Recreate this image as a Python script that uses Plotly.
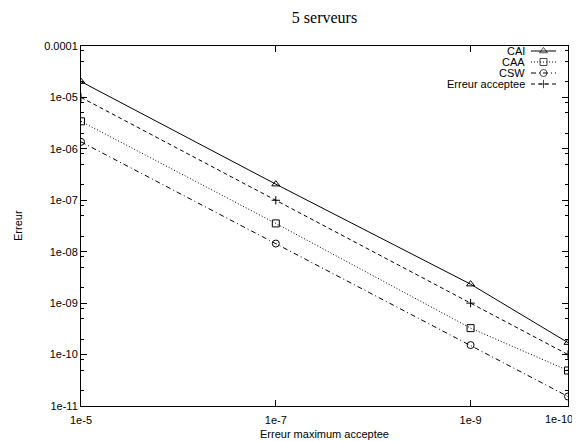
import plotly.graph_objects as go

x_vals = [1e-5, 1e-7, 1e-9, 1e-10]
cai = [2.03e-5, 2.06e-7, 2.34e-9, 1.71e-10]
caa = [3.43e-6, 3.55e-8, 3.27e-10, 4.9e-11]
csw = [1.37e-6, 1.44e-8, 1.53e-10, 1.53e-11]
erreur_acceptee = [1e-5, 1e-7, 1e-9, 1e-10]

series_names = ["CAI", "CAA", "CSW", "Erreur acceptee"]
series_vals = [cai, caa, csw, erreur_acceptee]
dashes = ["solid", "1px,2px", "5px,3px,1px,3px", "4px,3px"]
symbols = ["triangle-up-open", "square-open", "circle-open", "cross-thin-open"]
sizes = [7, 7, 7, 6]

x_tickvals = [1e-5, 1e-7, 1e-9, 1e-10]
x_ticktext = ["1e-5", "1e-7", "1e-9", "1e-10"]
y_tickvals = [1e-4, 1e-5, 1e-6, 1e-7, 1e-8, 1e-9, 1e-10, 1e-11]
y_ticktext = ["0.0001", "1e-05", "1e-06", "1e-07", "1e-08", "1e-09", "1e-10", "1e-11"]
y_minor = [m * 10.0 ** e for e in range(-11, -4) for m in (2, 5, 8)]

# page body has an 8px margin: work in window pixels and offset
OFF = 8
FW, FH = 580 - OFF, 441 - OFF
L, T, R, Bm = 81, 46, 568, 406      # plot area in window pixels
W, H = R - L, Bm - T
LBL_Y = 419                          # x tick-label centre line (window px)

fig = go.Figure()
for name, vals, d, s, sz in zip(series_names, series_vals, dashes, symbols, sizes):
    fig.add_trace(go.Scatter(
        x=x_vals, y=vals, mode="lines+markers", name=name, showlegend=False,
        line=dict(color="black", width=1, dash=d),
        marker=dict(symbol=s, size=sz, color="black", line=dict(color="black", width=1)),
        xaxis="x", yaxis="y"))

# manual gnuplot-style legend (text right, sample left)
rows_py = [51, 62, 73, 84]
x0p, x1p, textp = 531, 556, 527
for name, d, s, sz, py in zip(series_names, dashes, symbols, sizes, rows_py):
    yy = (Bm - py) / H
    xa, xb = (x0p - L) / W, (x1p - L) / W
    fig.add_trace(go.Scatter(
        x=[xa, (xa + xb) / 2, xb], y=[yy, yy, yy], mode="lines+markers", showlegend=False,
        line=dict(color="black", width=1, dash=d),
        marker=dict(symbol=s, size=[0, sz, 0], color="black", line=dict(color="black", width=1)),
        xaxis="x2", yaxis="y2", hoverinfo="skip"))
    fig.add_annotation(x=(textp - L) / W, y=yy, xref="paper", yref="paper", text=name,
                       showarrow=False, xanchor="right", yanchor="middle",
                       font=dict(family="Liberation Sans", size=11, color="black"))

axis_common = dict(showline=True, linecolor="black", linewidth=1, mirror="allticks",
                   ticks="inside", ticklen=6, tickwidth=1, tickcolor="black",
                   showgrid=False, zeroline=False, automargin=False,
                   ticklabeloverflow="allow",
                   tickfont=dict(family="Liberation Sans", size=11, color="black"))

# last x tick label drawn as annotation so it can sit flush with the window edge
x_ticktext_axis = x_ticktext[:-1] + [""]

fig.update_layout(
    width=FW, height=FH,
    margin=dict(l=L - OFF, r=580 - R, t=T - OFF, b=441 - Bm, autoexpand=False),
    paper_bgcolor="white", plot_bgcolor="white",
    title=dict(text="5 serveurs", x=(L - OFF + W / 2) / FW, xanchor="center", y=1 - (17 - OFF) / FH,
               yanchor="middle", font=dict(family="Liberation Serif", size=16, color="black")),
    xaxis=dict(type="log", range=[-4.9999, -10.0001], tickvals=x_tickvals, ticktext=x_ticktext_axis,
               ticklabelstandoff=4, **axis_common),
    yaxis=dict(type="log", range=[-11.0001, -3.9999], tickvals=y_tickvals, ticktext=y_ticktext,
               minor=dict(tickvals=y_minor, ticks="inside", ticklen=3, tickcolor="black", tickwidth=1),
               **axis_common),
    xaxis2=dict(overlaying="x", range=[0, 1], visible=False),
    yaxis2=dict(overlaying="y", range=[0, 1], visible=False),
)
fig.add_annotation(x=1.0, y=(Bm - LBL_Y) / H, xref="paper", yref="paper", text=x_ticktext[-1],
                   showarrow=False, xanchor="right", yanchor="middle", xshift=7,
                   font=dict(family="Liberation Sans", size=11, color="black"))
fig.add_annotation(x=0.5, y=(Bm - 434) / H, xref="paper", yref="paper", text="Erreur maximum acceptee",
                   showarrow=False, xanchor="center", yanchor="middle",
                   font=dict(family="Liberation Sans", size=11, color="black"))
fig.add_annotation(x=(18 - L) / W, y=0.5, xref="paper", yref="paper", text="Erreur", textangle=-90,
                   showarrow=False, xanchor="center", yanchor="middle",
                   font=dict(family="Liberation Sans", size=11, color="black"))

fig.write_html("out.html")
